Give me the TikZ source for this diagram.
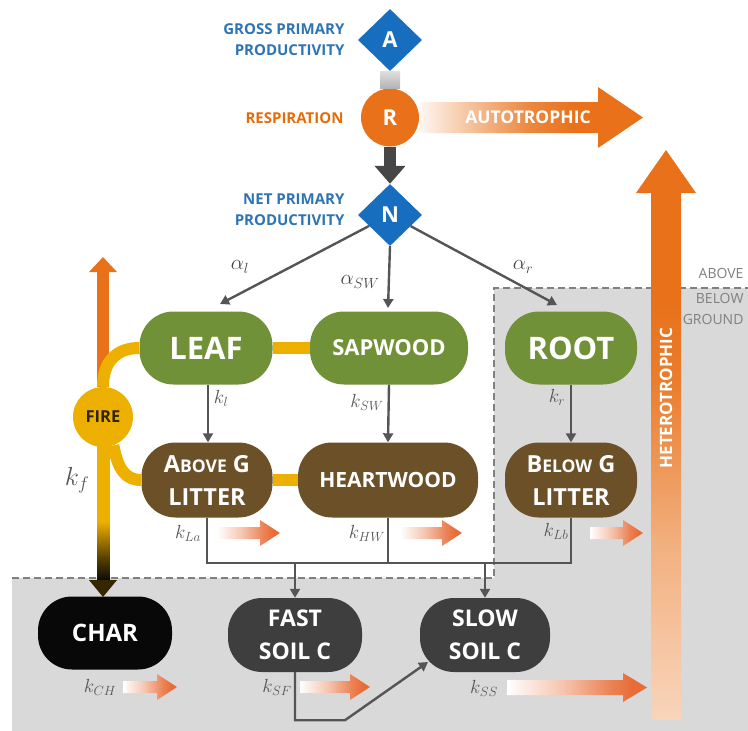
\RequirePackage{fix-cm}
\documentclass[tikz,border=0pt]{standalone}
\usepackage{fontspec}
\setmainfont{Open Sans}
\usetikzlibrary{shapes.geometric,arrows.meta,calc}

\definecolor{leafgreen}{RGB}{112,145,55}
\definecolor{litbrown}{RGB}{108,80,40}
\definecolor{soilgray}{RGB}{62,62,62}
\definecolor{charblk}{RGB}{8,8,8}
\definecolor{firey}{RGB}{238,176,0}
\definecolor{orng}{RGB}{232,113,26}
\definecolor{blu}{RGB}{24,110,190}
\definecolor{lblblue}{RGB}{46,116,181}
\definecolor{lblorng}{RGB}{228,108,10}
\definecolor{cgray}{RGB}{85,85,85}
\definecolor{darkg}{RGB}{70,70,70}
\definecolor{bggray}{RGB}{217,217,217}
\definecolor{arrred}{RGB}{232,108,55}

\pgfdeclarehorizontalshading{autofade}{100bp}{color(0bp)=(orng!5!white); color(25bp)=(orng!5!white); color(37bp)=(orng!45!white); color(50bp)=(orng!85!white); color(60bp)=(orng); color(100bp)=(orng)}
\pgfdeclareverticalshading{heterofade}{100bp}{color(0bp)=(orng!30!white); color(25bp)=(orng!30!white); color(40bp)=(orng!55!white); color(55bp)=(orng!92!white); color(62bp)=(orng); color(100bp)=(orng)}
\pgfdeclareverticalshading{firefade}{100bp}{color(0bp)=(charblk); color(25bp)=(charblk); color(33bp)=(firey!35!black); color(47bp)=(firey); color(100bp)=(firey)}
\pgfdeclarehorizontalshading{smallfade}{100bp}{color(0bp)=(white); color(25bp)=(white); color(45bp)=(arrred!40!white); color(62bp)=(arrred!85!white); color(70bp)=(arrred); color(100bp)=(arrred)}

\begin{document}
\begin{tikzpicture}[x=1pt,y=-1pt,
  pool/.style={rectangle, rounded corners=34pt, minimum height=73pt, inner sep=0pt, text=white, align=center},
  live/.style={pool, fill=leafgreen},
  litter/.style={pool, fill=litbrown, minimum height=75pt, font=\fontsize{23.5}{33}\selectfont\bfseries},
  soil/.style={pool, fill=soilgray, minimum height=74pt, font=\fontsize{23}{33}\selectfont\bfseries},
  flux/.style={diamond, fill=blu, text=white, font=\fontsize{22}{22}\selectfont\bfseries, minimum width=64pt, minimum height=62pt, inner sep=0pt},
  conn/.style={draw=cgray, line width=2.4pt},
  tipx/.style={-{Triangle[width=10pt,length=9pt]}},
  fireline/.style={draw=firey, line width=12pt},
  lbl/.style={text=cgray, font=\fontsize{19}{19}\selectfont},
  albl/.style={text=darkg, font=\fontsize{21}{21}\selectfont},
  grp/.style={font=\fontsize{15}{21}\selectfont\bfseries, align=right, anchor=east},
  small/.style={shading=smallfade},
]
\useasboundingbox (0,0) rectangle (748,731);

% ground regions
\fill[bggray] (12,578) rectangle (748,731);
\fill[bggray] (494,288) rectangle (748,578);
\draw[draw=gray, line width=1.2pt, dash pattern=on 7pt off 4pt] (12,578) -- (494,578) -- (494,288) -- (748,288);
\node[text=gray, font=\fontsize{14}{14}\selectfont, anchor=east] (abv) at (747,273) {ABOVE};
\node[text=gray, font=\fontsize{14}{14}\selectfont, anchor=east] (blw) at (747,298) {BELOW};
\node[text=gray, font=\fontsize{14}{14}\selectfont, anchor=east] (grd) at (747,319) {GROUND};

% respiration block arrows
\shade[shading=autofade] (419,102) -- (598,102) -- (598,87) -- (643,117.5) -- (598,148) -- (598,133) -- (419,133) -- cycle;
\node[text=white, font=\fontsize{17.5}{17.5}\selectfont\bfseries] (auto) at (528,117.5) {AUTOTROPHIC};
\shade[shading=heterofade] (651,720) -- (651,193) -- (636,193) -- (666,150) -- (696,193) -- (681,193) -- (681,720) -- cycle;
\node[rotate=90, text=white, font=\fontsize{17}{17}\selectfont\bfseries] (het) at (666,398) {HETEROTROPHIC};

% top chain
\node[flux] (A) at (390,40) {A};
\node[circle, fill=orng, text=white, font=\fontsize{22}{22}\selectfont\bfseries, minimum size=58pt, inner sep=0pt] (R) at (390,117.5) {R};
\node[flux] (N) at (390,215) {N};
\shade[top color=gray!25, bottom color=gray!60] ($(A.south)+(-10,0)$) rectangle ($(R.north)+(10,0)$);
\node[grp, text=lblblue] (gpp) at (348,40) {GROSS PRIMARY\\PRODUCTIVITY};
\node[grp, text=lblorng] (resp) at (347,118) {RESPIRATION};
\node[grp, text=lblblue] (npp) at (348,210) {NET PRIMARY\\PRODUCTIVITY};
\draw[draw=darkg, line width=12pt, -{Triangle[width=30pt,length=18pt]}] (R.south) -- (N.north);

% pools
\node[live, minimum width=133pt, font=\fontsize{31}{31}\selectfont\bfseries] (leaf) at (206,348) {LEAF};
\node[live, minimum width=158pt, font=\fontsize{22}{22}\selectfont\bfseries] (sap) at (389,348) {SAPWOOD};
\node[live, minimum width=132pt, font=\fontsize{31}{31}\selectfont\bfseries] (root) at (571,348) {ROOT};
\node[litter, minimum width=131pt] (abg) at (207,480) {A{\fontsize{17.5}{17.5}\selectfont BOVE} G\\LITTER};
\node[litter, minimum width=180pt, font=\fontsize{21}{21}\selectfont\bfseries] (heart) at (388,480) {HEARTWOOD};
\node[litter, minimum width=132pt] (blg) at (571,480) {B{\fontsize{17.5}{17.5}\selectfont ELOW} G\\LITTER};
\node[pool, fill=charblk, minimum width=134pt, font=\fontsize{24}{24}\selectfont\bfseries] (char) at (105,633) {CHAR};
\node[soil, minimum width=134pt] (fast) at (295,635) {FAST\\SOIL C};
\node[soil, minimum width=130pt] (slow) at (485,635) {SLOW\\SOIL C};
\node[circle, fill=firey, text=black!80!firey, font=\fontsize{16.5}{16.5}\selectfont\bfseries, minimum size=60pt, inner sep=0pt] (fire) at (103,417) {FIRE};

% fire connections
\coordinate (fireup) at (103,257);
\draw[draw=orng, line width=12pt, -{Triangle[width=27pt,length=15pt]}] (fire.north) -- (fireup);
\draw[fireline] (fire.north) .. controls (103,362) and (116,348) .. (leaf.west);
\draw[fireline] (fire.-70) .. controls (118,470) and (126,480) .. (abg.west);
\draw[fireline] (leaf.east) -- (sap.west);
\draw[fireline] (abg.east) -- (heart.west);
\shade[shading=firefade] (97,445) rectangle (109.5,581);
\fill[fill=firey!22!black] (89,580) -- (117,580) -- (103,597) -- cycle;

% allocation
\coordinate (leafin) at (220,304);
\coordinate (sapin) at (388,308);
\coordinate (rootin) at (557,305);
\draw[conn, tipx] (N) -- (leafin);
\draw[conn, tipx] (N.south) -- (sapin);
\draw[conn, tipx] (N) -- (rootin);
\node[albl] (al) at (240,267) {$\alpha_l$};
\node[albl] (asw) at (360,282) {$\alpha_{SW}$};
\node[albl] (ar) at (523,267) {$\alpha_r$};

% turnover
\draw[conn, tipx] (leaf.south -| 208,0) -- (abg.north -| 208,0);
\draw[conn, tipx] (sap.south) -- (heart.north);
\draw[conn, tipx] (root.south) -- (blg.north);
\node[lbl] (kl) at (221,398) {$k_l$};
\node[lbl] (ksw) at (367,402) {$k_{SW}$};
\node[lbl] (kr) at (557,397) {$k_r$};

% litter to soil
\coordinate (bus) at (0,563);
\draw[conn] (abg.south) |- (blg.south |- bus) -- (blg.south);
\draw[conn] (heart.south) -- (heart.south |- bus);
\draw[conn, tipx] (fast.north |- bus) -- (fast.north);
\draw[conn, tipx] (slow.north |- bus) -- (slow.north);
\coordinate (slowin) at (428,662);
\draw[conn, tipx] (fast.south) -- ++(0,48) -- ++(50,0) -- (slowin);

\node[lbl] (kla) at (188,533) {$k_{La}$};
\node[lbl] (khw) at (367,533) {$k_{HW}$};
\node[lbl] (klb) at (556,531) {$k_{Lb}$};
\node[lbl] (kch) at (100,687) {$k_{CH}$};
\node[lbl] (ksf) at (277,687) {$k_{SF}$};
\node[lbl] (kss) at (484,688) {$k_{SS}$};
\node[lbl, font=\fontsize{26}{26}\selectfont] (kf) at (77,480) {$k_f$};

% heterotrophic small arrows
\shade[small] (217,527) -- (260,527) -- (260,520) -- (280,533) -- (260,546) -- (260,539) -- (217,539) -- cycle;
\shade[small] (400,527) -- (442,527) -- (442,520) -- (462,533) -- (442,546) -- (442,539) -- (400,539) -- cycle;
\shade[small] (590,527) -- (623,527) -- (623,520) -- (643,533) -- (623,546) -- (623,539) -- (590,539) -- cycle;
\shade[small] (123,681) -- (157,681) -- (157,674) -- (177,687) -- (157,700) -- (157,693) -- (123,693) -- cycle;
\shade[small] (300,681) -- (350,681) -- (350,674) -- (370,687) -- (350,700) -- (350,693) -- (300,693) -- cycle;
\shade[small] (507,680) -- (623,680) -- (623,673) -- (647,687.5) -- (623,702) -- (623,695) -- (507,695) -- cycle;
\end{tikzpicture}
\end{document}
